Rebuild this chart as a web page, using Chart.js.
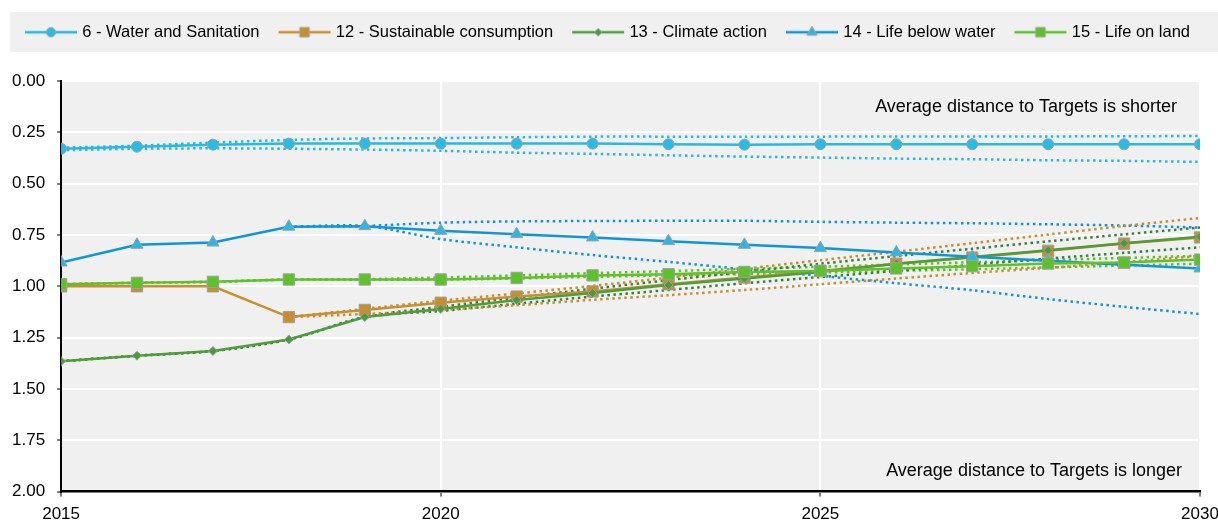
<!DOCTYPE html>
<html>
<head>
<meta charset="utf-8">
<script src="https://cdn.jsdelivr.net/npm/chart.js@4"></script>
<style>
  html, body { margin: 0; padding: 0; background: #fff; }
  #wrap { width: 1218px; height: 525px; }
</style>
</head>
<body>
<div id="wrap"><canvas id="sdgChart"></canvas></div>
<script>
/* ================= DATA ================= */
const years = [2015, 2016, 2017, 2018, 2019, 2020, 2021, 2022, 2023, 2024, 2025, 2026, 2027, 2028, 2029, 2030];

const water       = [0.33, 0.32, 0.31, 0.305, 0.305, 0.305, 0.305, 0.305, 0.308, 0.31, 0.308, 0.308, 0.308, 0.308, 0.308, 0.308];
const consumption = [1.00, 1.00, 1.00, 1.15, 1.115, 1.08, 1.05, 1.025, 0.99, 0.957, 0.925, 0.89, 0.86, 0.827, 0.792, 0.762];
const climate     = [1.365, 1.338, 1.315, 1.259, 1.15, 1.11, 1.067, 1.033, 0.994, 0.962, 0.93, 0.89, 0.857, 0.824, 0.79, 0.759];
const belowWater  = [0.884, 0.798, 0.787, 0.71, 0.707, 0.73, 0.746, 0.762, 0.78, 0.798, 0.814, 0.835, 0.856, 0.875, 0.895, 0.913];
const onLand      = [0.99, 0.983, 0.978, 0.967, 0.967, 0.967, 0.959, 0.947, 0.941, 0.93, 0.925, 0.913, 0.902, 0.889, 0.884, 0.87];

// dotted range lines (upper / lower)
const waterHi  = [0.325, 0.315, 0.30, 0.287, 0.28, 0.278, 0.274, 0.271, 0.271, 0.271, 0.271, 0.27, 0.27, 0.27, 0.269, 0.268];
const waterLo  = [0.337, 0.33, 0.328, 0.33, 0.334, 0.34, 0.349, 0.355, 0.362, 0.368, 0.373, 0.378, 0.381, 0.386, 0.389, 0.394];
const consHi   = [null, null, null, 1.15, 1.11, 1.07, 1.035, 0.998, 0.958, 0.915, 0.873, 0.832, 0.79, 0.748, 0.706, 0.667];
const consLo   = [null, null, null, 1.15, 1.135, 1.115, 1.092, 1.066, 1.043, 1.018, 0.99, 0.962, 0.935, 0.91, 0.882, 0.852];
const climHi   = [1.365, 1.338, 1.315, 1.259, 1.15, 1.10, 1.055, 1.012, 0.97, 0.93, 0.89, 0.853, 0.817, 0.781, 0.747, 0.714];
const climLo   = [1.365, 1.338, 1.315, 1.259, 1.15, 1.12, 1.085, 1.05, 1.018, 0.985, 0.955, 0.925, 0.895, 0.865, 0.837, 0.81];
const belowHi  = [null, null, null, 0.71, 0.706, 0.69, 0.684, 0.682, 0.681, 0.681, 0.686, 0.69, 0.693, 0.698, 0.704, 0.714];
const belowLo  = [null, null, null, 0.71, 0.706, 0.77, 0.81, 0.848, 0.881, 0.917, 0.949, 0.985, 1.019, 1.062, 1.10, 1.135];
const landHi   = [0.99, 0.983, 0.978, 0.967, 0.965, 0.957, 0.947, 0.936, 0.926, 0.915, 0.905, 0.894, 0.883, 0.872, 0.862, 0.851];
const landLo   = [0.99, 0.983, 0.978, 0.967, 0.968, 0.968, 0.962, 0.954, 0.947, 0.94, 0.933, 0.925, 0.917, 0.908, 0.899, 0.89];

const yTicks = [0, 0.25, 0.5, 0.75, 1, 1.25, 1.5, 1.75, 2];
const noteTop = "Average distance to Targets is shorter";
const noteBottom = "Average distance to Targets is longer";

const FONT = "'Liberation Sans', Arial, sans-serif";

/* ================= HELPERS ================= */
const pts = arr => arr.map((v, i) => ({ x: years[i], y: v }));

function drawShape(ctx, style, r, x, y) {
  if (style === "circle") ctx.arc(x, y, r, 0, Math.PI * 2);
  else if (style === "rect") { const s = r * Math.SQRT1_2; ctx.rect(x - s, y - s, 2 * s, 2 * s); }
  else if (style === "rectRot") { ctx.moveTo(x, y - r); ctx.lineTo(x + r, y); ctx.lineTo(x, y + r); ctx.lineTo(x - r, y); ctx.closePath(); }
  else if (style === "triangle") {
    ctx.moveTo(x, y - r);
    ctx.lineTo(x + r * 0.866, y + r * 0.5);
    ctx.lineTo(x - r * 0.866, y + r * 0.5);
    ctx.closePath();
  }
}

// little "line + marker" picture for the legend
function legendIcon(color, fill, style, radius) {
  const c = document.createElement("canvas");
  c.width = 56; c.height = 18;
  const ctx = c.getContext("2d");
  ctx.strokeStyle = color;
  ctx.lineWidth = 2.5;
  ctx.beginPath();
  ctx.moveTo(2, 9); ctx.lineTo(54, 9);
  ctx.stroke();
  ctx.fillStyle = fill;
  ctx.strokeStyle = "#a0a0a0";
  ctx.lineWidth = 1;
  ctx.beginPath();
  drawShape(ctx, style, radius, 28, 9);
  ctx.fill();
  ctx.stroke();
  return c;
}

const series = [
  { label: "6 - Water and Sanitation",     data: water,       line: "#26b9e3", fill: "#27bce6", style: "circle",   r: 5.5, order: 5 },
  { label: "12 - Sustainable consumption", data: consumption, line: "#c98f2f", fill: "#c58e30", style: "rect",     r: 8,   order: 4 },
  { label: "13 - Climate action",          data: climate,     line: "#4e9c3a", fill: "#4b9a3b", style: "rectRot",  r: 4.5, order: 3 },
  { label: "14 - Life below water",        data: belowWater,  line: "#0f96d9", fill: "#2bb7e2", style: "triangle", r: 7,   order: 2 },
  { label: "15 - Life on land",            data: onLand,      line: "#5fc12b", fill: "#5cc12a", style: "rect",     r: 8,   order: 1 }
];

const ranges = [
  { data: waterHi, color: "#26b9e3" }, { data: waterLo, color: "#26b9e3" },
  { data: consHi, color: "#c98f2f" },  { data: consLo, color: "#c98f2f" },
  { data: climHi, color: "#3c7f3e" },  { data: climLo, color: "#3c7f3e" },
  { data: belowHi, color: "#0f96d9" }, { data: belowLo, color: "#0f96d9" },
  { data: landHi, color: "#5fc12b" },  { data: landLo, color: "#5fc12b" }
];

const datasets = series.map(s => ({
  label: s.label,
  data: pts(s.data),
  borderColor: s.line,
  backgroundColor: s.fill,
  borderWidth: 2.5,
  pointStyle: s.style,
  pointRadius: s.r,
  pointBackgroundColor: s.fill,
  pointBorderColor: "#a0a0a0",
  pointBorderWidth: 1,
  tension: 0,
  order: s.order
})).concat(ranges.map(r => ({
  label: "",
  data: pts(r.data),
  borderColor: r.color,
  borderWidth: 2.5,
  borderDash: [2.5, 3.5],
  pointRadius: 0,
  tension: 0.3,
  order: 10
})));

/* ================= PLUGINS ================= */
const LEGEND_EXTRA = 30.5;

const backdrop = {
  id: "backdrop",
  beforeInit(chart) {
    const fit = chart.legend.fit;
    chart.legend.fit = function () {
      fit.bind(chart.legend)();
      this.height += LEGEND_EXTRA;
    };
  },
  beforeDraw(chart) {
    const { ctx, chartArea: a } = chart;
    ctx.save();
    ctx.fillStyle = "#f0f0f0";
    ctx.fillRect(10, 12, chart.width - 10, 40);
    ctx.fillRect(a.left, a.top, a.right - a.left, a.bottom - a.top);
    ctx.restore();
  },
  afterDraw(chart) {
    const { ctx, chartArea: a } = chart;
    ctx.save();
    ctx.font = "18px " + FONT;
    ctx.fillStyle = "#000";
    ctx.textAlign = "right";
    ctx.textBaseline = "middle";
    ctx.fillText(noteTop, a.right - 23, a.top + 26);
    ctx.fillText(noteBottom, a.right - 18, a.bottom - 21);
    ctx.restore();
  }
};

/* ================= CHART ================= */
new Chart(document.getElementById("sdgChart"), {
  type: "line",
  data: { datasets },
  options: {
    responsive: true,
    maintainAspectRatio: false,
    devicePixelRatio: 1,
    animation: false,
    layout: { padding: { top: 2, right: 0, left: 0, bottom: -8 } },
    plugins: {
      tooltip: { enabled: false },
      legend: {
        position: "top",
        labels: {
          usePointStyle: true,
          pointStyleWidth: 46,
          padding: 22,
          color: "#000",
          font: { family: FONT, size: 16.5 },
          generateLabels: chart => series.map((s, i) => ({
            text: s.label,
            datasetIndex: i,
            pointStyle: legendIcon(s.line, s.fill, s.style, s.r * 0.85),
            fillStyle: s.fill,
            strokeStyle: s.line,
            lineWidth: 0,
            hidden: false,
            fontColor: "#000"
          }))
        }
      }
    },
    scales: {
      x: {
        type: "linear",
        min: 2015,
        max: 2030,
        afterFit: s => { s.paddingRight = 18; },
        ticks: {
          stepSize: 5,
          color: "#000",
          font: { family: FONT, size: 17 },
          padding: 8,
          maxRotation: 0,
          callback: v => String(v)
        },
        grid: { color: "#ffffff", lineWidth: 2, tickColor: "#000", tickLength: 5, tickWidth: 1 },
        border: { color: "#000", width: 2.5 }
      },
      y: {
        reverse: true,
        min: 0,
        max: 2,
        afterBuildTicks: axis => { axis.ticks = yTicks.map(v => ({ value: v })); },
        ticks: {
          color: "#000",
          font: { family: FONT, size: 17 },
          padding: 12,
          callback: v => Number(v).toFixed(2)
        },
        grid: { color: "#ffffff", lineWidth: 2, tickColor: "#000", tickLength: 4, tickWidth: 1 },
        border: { color: "#000", width: 2 }
      }
    }
  },
  plugins: [backdrop]
});
</script>
</body>
</html>
